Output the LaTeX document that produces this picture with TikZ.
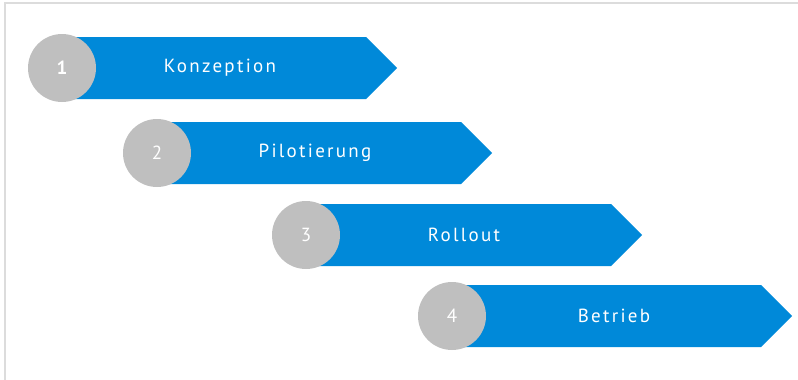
\documentclass[tikz,border=0pt]{standalone}
\usepackage{fontspec}
\setsansfont{PT Sans}[LetterSpace=12]
\definecolor{phaseblue}{RGB}{0,137,217}
\definecolor{stepgray}{RGB}{191,191,191}
\definecolor{framegray}{RGB}{220,220,220}

\begin{document}
\begin{tikzpicture}[x=1pt,y=-1pt,
  phasearrow/.style={fill=phaseblue,draw=none},
  numdisc/.style={circle,fill=stepgray,minimum size=68pt,inner sep=0pt,text=white,font=\sffamily\fontsize{19}{19}\selectfont},
  phaselabel/.style={text=white,font=\sffamily\fontsize{19}{19}\selectfont}]
  \useasboundingbox (0,0) rectangle (798,380);
  % frame
  \draw[framegray,line width=2pt] (5,380) -- (5,3) -- (798,3);

  % phases: number/circle x/y/label x/tip x/label
  \foreach \n/\cx/\cy/\tx/\tip/\name in {1/62/68/220/397/Konzeption,
      2/157/153/315/492/Pilotierung,
      3/306/235/464/642/Rollout,
      4/452/316/614/792/Betrieb}{
    \fill[phasearrow] (\cx,\cy-31) -- (\tip-31,\cy-31) -- (\tip,\cy)
      -- (\tip-31,\cy+31) -- (\cx,\cy+31) -- cycle;
    \node[numdisc] (num\n) at (\cx,\cy) {\ifnum\n=1 \bfseries\fi\n};
    \node[phaselabel] (phase\n) at (\tx,\cy) {\name};
  }
\end{tikzpicture}
\end{document}
